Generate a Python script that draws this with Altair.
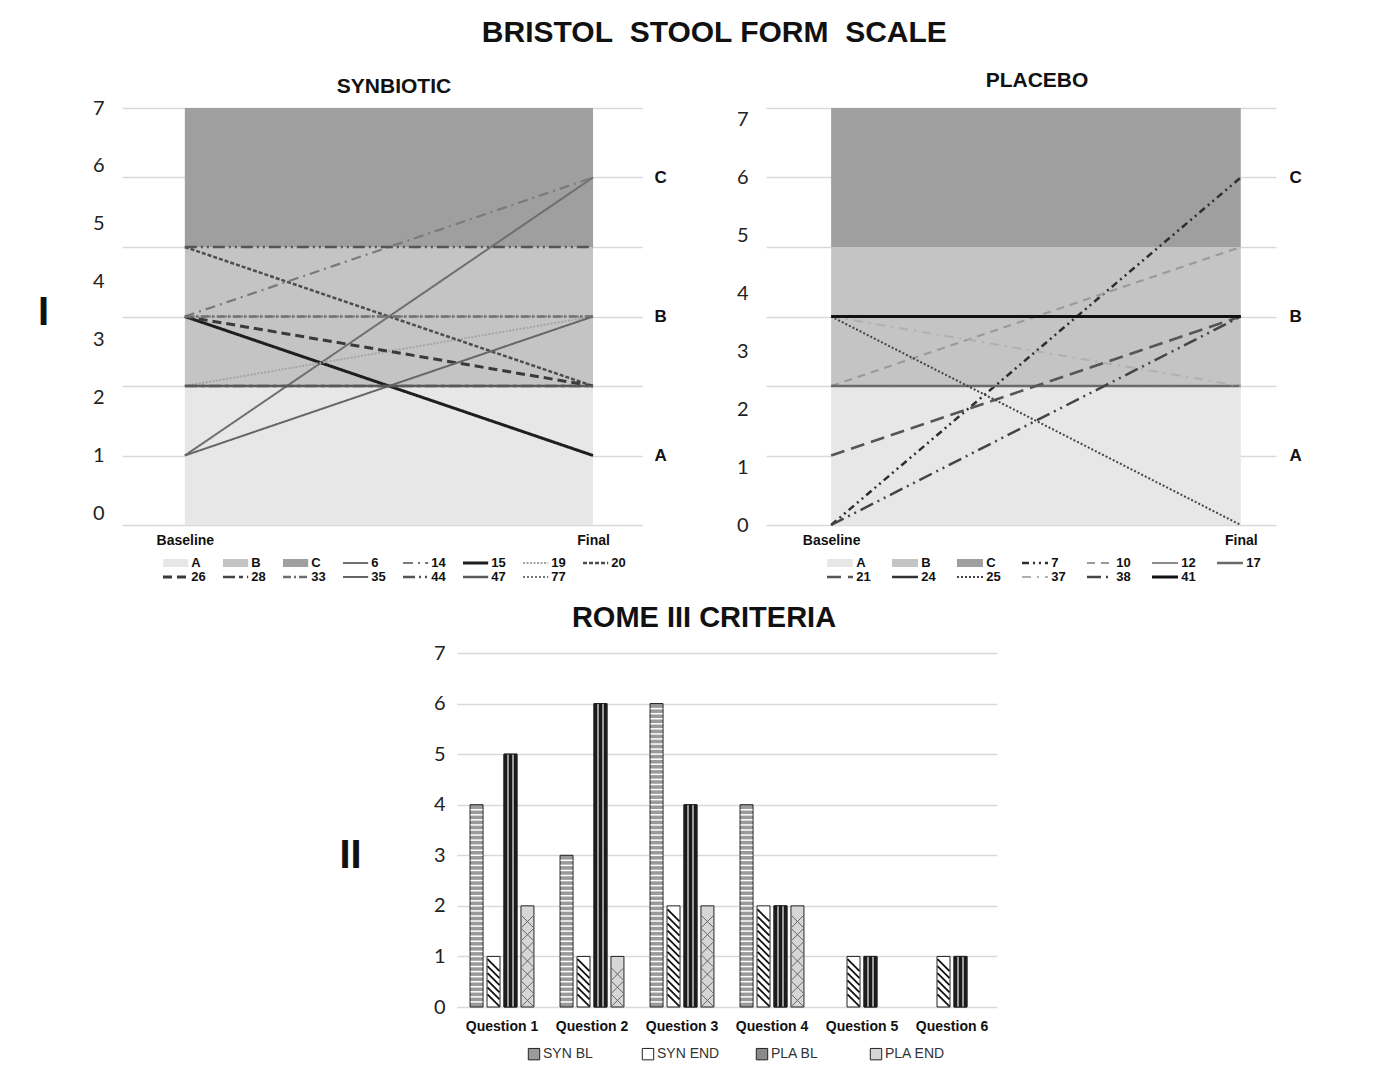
import altair as alt
import pandas as pd

NB = "\u00a0"
MAIN_TITLE = f"BRISTOL{NB}{NB}STOOL FORM{NB}{NB}SCALE"
BAR_TITLE = "ROME III CRITERIA"

# ---- Bristol scale: zones (in grid units) ----
band_ids = ["A", "B", "C"]
band_lo = [0, 2, 4]
band_hi = [2, 4, 6]
zone_ticks = [1, 3, 5]
left_ticks = [0, 1, 2, 3, 4, 5, 6, 7]
time_labels = ["Baseline", "Final"]

# ---- Synbiotic patients ----
syn_ids = ["6", "14", "15", "19", "20", "26", "28", "33", "35", "44", "47", "77"]
syn_baseline = [1, 3, 3, 2, 4, 3, 2, 3, 1, 4, 2, 3]
syn_final = [5, 5, 1, 3, 2, 2, 2, 3, 3, 4, 2, 3]

# ---- Placebo patients ----
pla_ids = ["7", "10", "12", "17", "21", "24", "25", "37", "38", "41"]
pla_baseline = [0, 2, 2, 2, 1, 3, 3, 3, 0, 3]
pla_final = [5, 4, 2, 2, 3, 3, 0, 2, 3, 3]

# ---- Rome III ----
questions = ["Question 1", "Question 2", "Question 3", "Question 4", "Question 5", "Question 6"]
series = ["SYN BL", "SYN END", "PLA BL", "PLA END"]
syn_bl = [4, 3, 6, 4, 0, 0]
syn_end = [1, 1, 2, 2, 1, 1]
pla_bl = [5, 6, 4, 2, 1, 1]
pla_end = [2, 1, 2, 2, 0, 0]

# ---- styles (id -> colour, dash, width) ----
style = {
    "A": ("#e7e7e7", [1, 0], 8), "B": ("#c4c4c4", [1, 0], 8), "C": ("#9f9f9f", [1, 0], 8),
    "6": ("#6f6f6f", [1, 0], 2), "14": ("#7a7a7a", [10, 5, 2, 5], 2.2),
    "15": ("#1e1e1e", [1, 0], 3), "19": ("#a5a5a5", [2, 1.5], 2),
    "20": ("#4d4d4d", [4, 2], 2.5), "26": ("#3a3a3a", [9, 5], 3),
    "28": ("#454545", [12, 4, 4, 4], 2.5), "33": ("#6e6e6e", [8, 3, 2, 3], 2.4),
    "35": ("#666666", [1, 0], 2), "44": ("#555555", [12, 4, 2, 4, 2, 4], 2.5),
    "47": ("#5a5a5a", [1, 0], 2.5), "77": ("#777777", [2, 2], 2.2),
    "7": ("#2e2e2e", [7, 4, 2, 4, 2, 4], 2.5), "10": ("#9a9a9a", [8, 6], 2.2),
    "12": ("#8c8c8c", [1, 0], 2.2), "17": ("#6a6a6a", [1, 0], 2.5),
    "21": ("#555555", [14, 7], 2.5), "24": ("#333333", [1, 0], 2.5),
    "25": ("#444444", [2, 2], 2), "37": ("#b0b0b0", [9, 6, 2, 6], 2),
    "38": ("#444444", [14, 5, 2, 5, 2, 5], 2.5), "41": ("#111111", [1, 0], 3),
}
all_ids = band_ids + syn_ids + pla_ids
color_scale = alt.Scale(domain=all_ids, range=[style[i][0] for i in all_ids])
dash_scale = alt.Scale(domain=all_ids, range=[style[i][1] for i in all_ids])
width_scale = alt.Scale(type="ordinal", domain=all_ids, range=[style[i][2] for i in all_ids])

FONT = "Liberation Sans"
NUMFONT = "Lato"


def line_panel(ids, base, fin, title, title_dx, title_off, width, xdom, labdom, axis_title, rpad):
    n = len(ids)
    df = pd.DataFrame({"id": ids * 2, "t": [0] * n + [1] * n, "v": base + fin})
    bands = pd.DataFrame({"id": band_ids, "x0": [0] * 3, "x1": [1] * 3, "lo": band_lo, "hi": band_hi})
    ticks = pd.DataFrame({"k": left_ticks})
    xsc = alt.Scale(domain=xdom, nice=False, zero=False)
    xax = alt.Axis(values=[0, 1],
                   labelExpr=f"datum.value == 0 ? '{time_labels[0]}' : '{time_labels[1]}'",
                   grid=False, ticks=False, domain=False, title=None,
                   labelFontWeight="bold", labelFontSize=14, labelPadding=8,
                   labelColor="#111", labelFont=FONT)
    ysc = alt.Scale(domain=[0, 6], nice=False, zero=False)
    expr = " : ".join(f"datum.value == {t} ? '{l}'" for t, l in zip(zone_ticks, band_ids)) + " : ''"
    rect = alt.Chart(bands).mark_rect().encode(
        x=alt.X("x0:Q", scale=xsc, axis=xax), x2="x1:Q",
        y=alt.Y("lo:Q", scale=ysc, axis=None), y2="hi:Q",
        color=alt.Color("id:N", scale=color_scale, legend=None))
    lines = alt.Chart(df).mark_line().encode(
        x=alt.X("t:Q", scale=xsc, axis=xax),
        y=alt.Y("v:Q", scale=ysc, axis=alt.Axis(
            orient="right", values=list(range(7)), labelExpr=expr, grid=True,
            gridColor="#d9d9d9", gridWidth=1.5, ticks=False, domain=False,
            labelFontWeight="bold", labelFontSize=17, labelPadding=rpad,
            title=None, labelColor="#111", labelFont=FONT)),
        color=alt.Color("id:N", scale=color_scale, legend=None),
        strokeDash=alt.StrokeDash("id:N", scale=dash_scale, legend=None),
        strokeWidth=alt.StrokeWidth("id:N", scale=width_scale, legend=None),
        detail="id:N")
    lax = dict(orient="left", values=left_ticks, grid=False, ticks=False, domain=False,
               labelFont=NUMFONT, labelFontSize=20, labelPadding=18, labelColor="#222")
    if axis_title:
        lax.update(title=axis_title, titleAngle=0, titleFontSize=40, titleFontWeight="bold",
                   titleX=-79, titleY=204, titleAlign="center", titleBaseline="middle",
                   titleColor="#111", titleFont=FONT)
    else:
        lax.update(title=None)
    labels = alt.Chart(ticks).mark_point(opacity=0, clip=True).encode(
        y=alt.Y("k:Q", scale=alt.Scale(domain=labdom, nice=False, zero=False), axis=alt.Axis(**lax)))
    return alt.layer(rect, lines, labels).resolve_scale(y="independent").properties(
        width=width, height=417,
        title=alt.TitleParams(title, fontSize=21, fontWeight="bold", anchor="middle", frame="group",
                              dx=title_dx, offset=title_off, color="#111", font=FONT))


def legend_panel(ids, ncols, width, xdom, sym, off):
    items = band_ids + ids
    df = pd.DataFrame({"id": items,
                       "col": [i % ncols for i in range(len(items))],
                       "row": [i // ncols for i in range(len(items))]})
    base = alt.Chart(df).transform_calculate(x2=f"datum.col + {sym}", xt=f"datum.col + {off}")
    xsc = alt.Scale(domain=xdom, nice=False, zero=False)
    ysc = alt.Scale(domain=[0, 1], nice=False, zero=False, reverse=True)
    rules = base.mark_rule().encode(
        x=alt.X("col:Q", scale=xsc, axis=None), x2="x2:Q",
        y=alt.Y("row:Q", scale=ysc, axis=None),
        color=alt.Color("id:N", scale=color_scale, legend=None),
        strokeDash=alt.StrokeDash("id:N", scale=dash_scale, legend=None),
        strokeWidth=alt.StrokeWidth("id:N", scale=width_scale, legend=None))
    text = base.mark_text(align="left", baseline="middle", fontWeight="bold", fontSize=13,
                          font=FONT, color="#111").encode(
        x=alt.X("xt:Q", scale=xsc, axis=None),
        y=alt.Y("row:Q", scale=ysc, axis=None),
        text="id:N")
    return alt.layer(rules, text).properties(width=width, height=14)


syn_chart = line_panel(syn_ids, syn_baseline, syn_final, "SYNBIOTIC", 12, 1, 520,
                       [-0.154, 1.12], [-0.2, 7.0], "I", 12)
pla_chart = line_panel(pla_ids, pla_baseline, pla_final, "PLACEBO", 16, 17, 510,
                       [-0.159, 1.086], [0.0, 7.2], None, 13)
syn_leg = legend_panel(syn_ids, 8, 530, [-0.683, 8.15], 0.42, 0.47)
pla_leg = legend_panel(pla_ids, 7, 500, [-0.938, 6.754], 0.40, 0.45)

syn_col = alt.vconcat(syn_chart, syn_leg, spacing=10)
pla_col = alt.vconcat(pla_chart, pla_leg, spacing=10)

# ---- bar chart ----
rows = []
for s, vals in zip(series, [syn_bl, syn_end, pla_bl, pla_end]):
    for q, v in zip(questions, vals):
        rows.append({"q": q, "s": s, "v": v})
bdf = pd.DataFrame(rows)

bx = alt.X("q:N", sort=questions, scale=alt.Scale(paddingInner=0.29, paddingOuter=0.145),
           axis=alt.Axis(title=None, labelAngle=0, ticks=False, domain=False,
                         labelFontWeight="bold", labelFontSize=14, labelPadding=12,
                         labelColor="#111", labelFont=FONT))
bxo = alt.XOffset("s:N", sort=series, scale=alt.Scale(domain=series, paddingInner=0.235))
bysc = alt.Scale(domain=[0, 7], nice=False)
byax = alt.Axis(
    values=left_ticks, grid=True, gridColor="#d9d9d9", gridWidth=1.5, ticks=False, domain=False,
    labelFont=NUMFONT, labelFontSize=20, labelPadding=12, labelColor="#222",
    title="II", titleAngle=0, titleFontSize=40, titleFontWeight="bold", titleX=-107, titleY=202,
    titleAlign="center", titleBaseline="middle", titleColor="#111", titleFont=FONT)
by = alt.Y("v:Q", scale=bysc, axis=byax)
by_seq = alt.Y("seq:Q", scale=bysc, axis=byax)

bbase = alt.Chart(bdf).transform_filter("datum.v > 0")
bars = bbase.mark_bar(stroke="#222", strokeWidth=1).encode(
    x=bx, xOffset=bxo, y=by,
    fill=alt.Fill("s:N", sort=series, scale=alt.Scale(domain=series,
                  range=["#9a9a9a", "#ffffff", "#8a8a8a", "#d6d6d6"]),
                  legend=alt.Legend(orient="none", legendX=70, legendY=394, direction="horizontal",
                                    columns=4, gridAlign="all", columnPadding=34, title=None,
                                    symbolType="square", symbolSize=130, symbolStrokeColor="#222",
                                    symbolStrokeWidth=1, labelFontSize=14, labelFont=FONT,
                                    labelColor="#333", labelOffset=2)))

grad = {"gradient": "linear", "x1": 0, "x2": 1, "y1": 0, "y2": 0,
        "stops": [{"offset": 0, "color": "#1a1a1a"}, {"offset": 0.2, "color": "#1a1a1a"},
                  {"offset": 0.2, "color": "#9a9a9a"}, {"offset": 0.4, "color": "#9a9a9a"},
                  {"offset": 0.4, "color": "#1a1a1a"}, {"offset": 0.6, "color": "#1a1a1a"},
                  {"offset": 0.6, "color": "#9a9a9a"}, {"offset": 0.8, "color": "#9a9a9a"},
                  {"offset": 0.8, "color": "#1a1a1a"}, {"offset": 1, "color": "#1a1a1a"}]}
pla_bl_bars = bbase.transform_filter("datum.s == 'PLA BL'").mark_bar(
    fill=grad, stroke="#222", strokeWidth=1).encode(x=bx, xOffset=bxo, y=by)


def stripes(name, start, step, shape, color, sw, end_trim):
    return (bbase.transform_filter(f"datum.s == '{name}'")
            .transform_calculate(seq=f"sequence({start}, datum.v - {end_trim}, {step})")
            .transform_flatten(["seq"])
            .mark_point(shape=shape, size=144, filled=False, stroke=color, strokeWidth=sw, opacity=1)
            .encode(x=bx, xOffset=bxo, y=by_seq))


st_h = stripes("SYN BL", 0.1, 0.1, "M-1,0L1,0", "#ffffff", 1.5, 0.02)
st_d = stripes("SYN END", 0.13, 0.14, "M-1,-1L1,1", "#111111", 1.8, 0.1)
st_x = stripes("PLA END", 0.13, 0.26, "M-1,-1L1,1M1,-1L-1,1", "#666666", 1, 0.1)

bar_chart = alt.layer(bars, pla_bl_bars, st_h, st_d, st_x).properties(
    width=540, height=354,
    title=alt.TitleParams(BAR_TITLE, fontSize=29, fontWeight="bold", anchor="middle", frame="group",
                          dx=-23, offset=10, color="#111", font=FONT))

spacer = alt.Chart(pd.DataFrame({"k": [0]})).mark_point(opacity=0).properties(width=196, height=10)
row2 = alt.hconcat(spacer, bar_chart, spacing=20).resolve_scale(
    fill="independent").resolve_legend(fill="independent")

row1 = alt.hconcat(syn_col, pla_col, spacing=69)
chart = alt.vconcat(row1, row2, spacing=20).resolve_scale(
    fill="independent").resolve_legend(fill="independent").properties(
    title=alt.TitleParams(MAIN_TITLE, fontSize=30, fontWeight="bold", dx=45, offset=22,
                          anchor="middle", color="#111", font=FONT),
    padding={"left": 29, "top": 10, "right": 5, "bottom": 5},
).configure(font=FONT).configure_view(stroke=None)

chart.save("out.html", embed_options={"renderer": "svg", "actions": False})
